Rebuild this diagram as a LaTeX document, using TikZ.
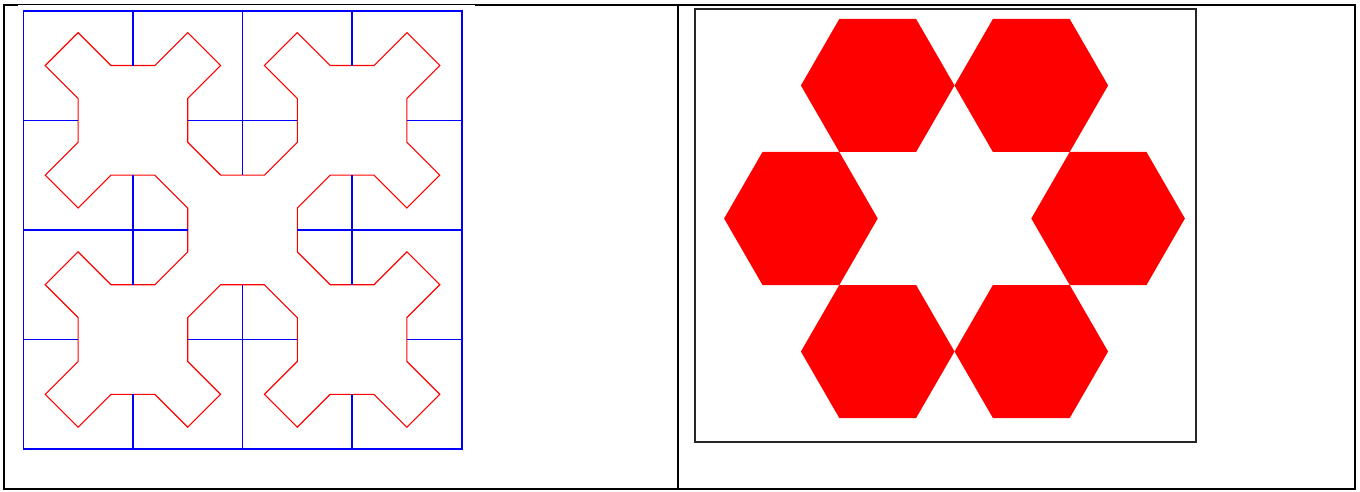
\documentclass[tikz,border=0pt]{standalone}
\usepackage{tikz}
\usetikzlibrary{shapes.geometric}

\tikzset{
  frameline/.style={line width=2pt, black},
  wall/.style={blue, line width=1.6pt},
  trail/.style={red, line width=1.1pt},
  hexcell/.style={regular polygon, regular polygon sides=6, fill=red,
                  inner sep=0pt, minimum size=153.6pt},
  plate/.style={draw=black!85, line width=1.7pt}
}

\begin{document}
\begin{tikzpicture}[x=1pt, y=-1pt]
  \useasboundingbox (0,0) rectangle (1360,491);
  % table cells
  \draw[frameline] (4,5) rectangle (1355,489);
  \draw[frameline] (678,5) -- (678,489);
  \fill[white] (18,5) rectangle (475,9);

  % left cell: grid and curve
  \begin{scope}[shift={(23.3,10.7)}, x=109.6pt, y=-109.6pt]
    \foreach \sx/\sy in {1/1, -1/1, 1/-1, -1/-1}
      \draw[trail, shift={(2,2)}, xscale=\sx, yscale=\sy]
        (0,-0.5) -- (-0.2,-0.5) -- (-0.5,-0.8) -- (-0.5,-1.2) -- (-0.2,-1.5)
        -- (-0.5,-1.8) -- (-0.8,-1.5) -- (-1.2,-1.5) -- (-1.5,-1.8)
        -- (-1.8,-1.5) -- (-1.5,-1.2) -- (-1.5,-0.8) -- (-1.8,-0.5)
        -- (-1.5,-0.2) -- (-1.2,-0.5) -- (-0.8,-0.5) -- (-0.5,-0.2) -- (-0.5,0);
    \draw[wall] (0,0) rectangle (4,4);
    \draw[wall] (1,0) -- (1,0.5)  (3,0) -- (3,0.5)  (2,0) -- (2,1.5)
                (1,4) -- (1,3.5)  (3,4) -- (3,3.5)  (2,4) -- (2,2.5)
                (0,1) -- (0.5,1)  (0,3) -- (0.5,3)  (0,2) -- (1.5,2)
                (4,1) -- (3.5,1)  (4,3) -- (3.5,3)  (4,2) -- (2.5,2);
    \draw[wall] (1.5,1) -- (2.5,1)  (1.5,3) -- (2.5,3)
                (1,1.5) -- (1,2.5)  (3,1.5) -- (3,2.5);
  \end{scope}

  % right cell: ring of hexagons
  \draw[plate] (695,9) rectangle (1196,442);
  \foreach \a [count=\i] in {0,60,...,300}
    \node[hexcell] (hex\i) at ([shift={(\a:153.6)}]954.5,218.5) {};
\end{tikzpicture}
\end{document}
